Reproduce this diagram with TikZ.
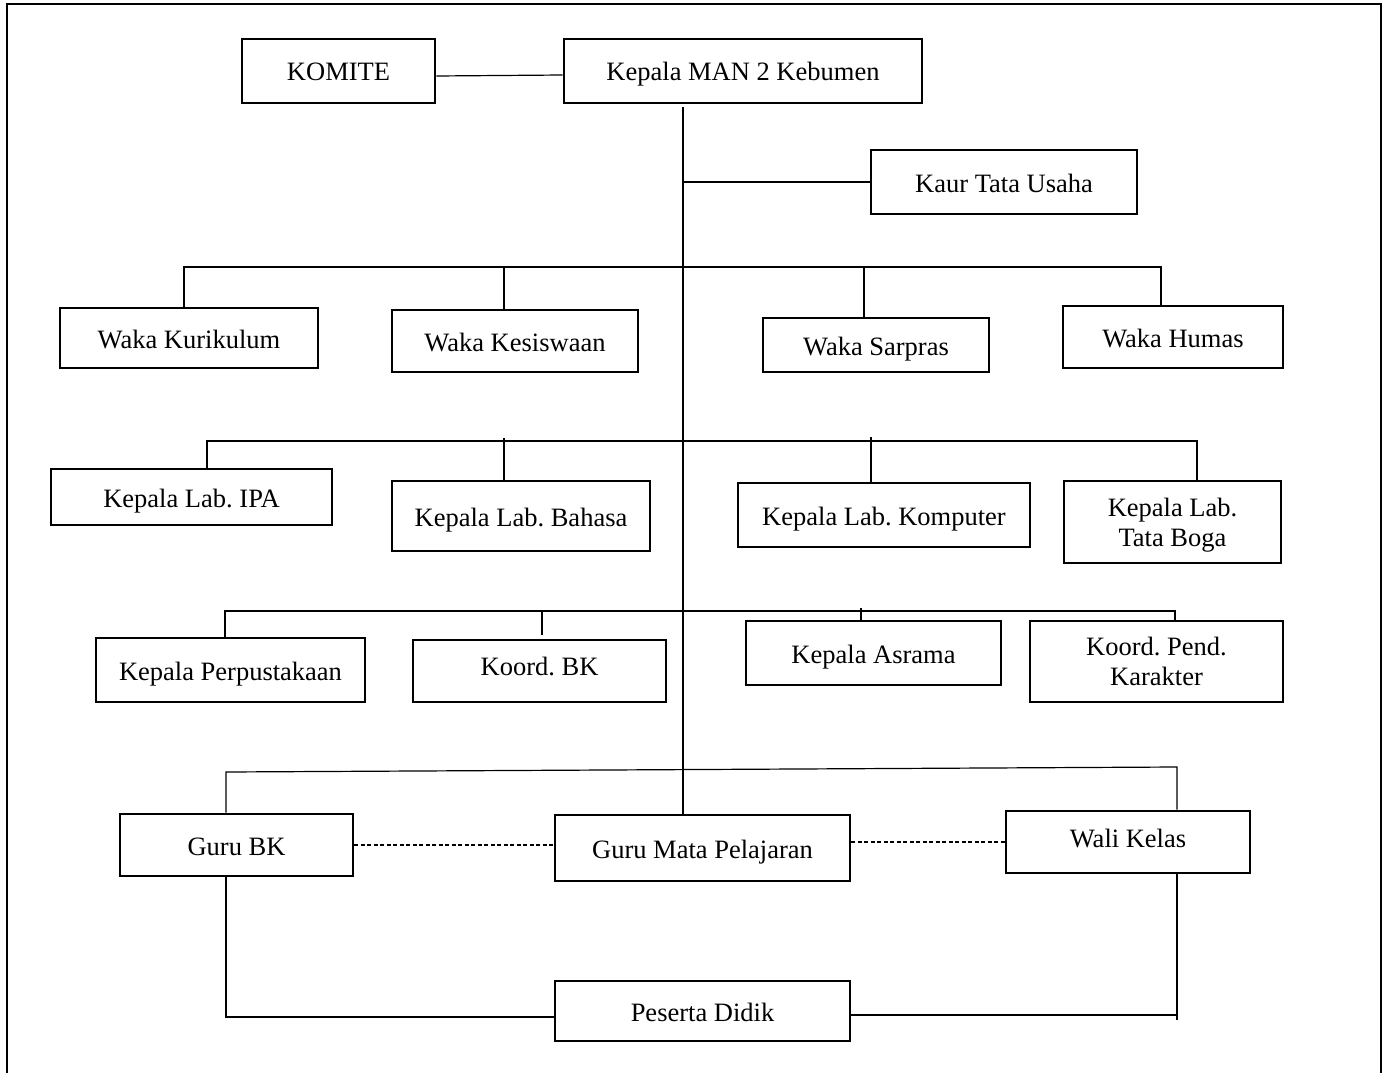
\documentclass[tikz,border=0pt]{standalone}
\usepackage{fontspec}
\setmainfont{Liberation Serif}
\begin{document}
\frenchspacing
\begin{tikzpicture}[x=1pt,y=-1pt,
  boxbase/.style={draw, line width=2.8pt, rectangle, inner sep=0pt, align=center,
              font=\fontsize{26.5}{30}\selectfont\frenchspacing},
  box/.style={boxbase, text height=20pt, text depth=0pt},
  twoline/.style={boxbase, text depth=0pt},
  conn/.style={line width=1.2pt},
  dashconn/.style={line width=1.2pt, dash pattern=on 4pt off 2.5pt},
  frame/.style={line width=2.8pt}]
\useasboundingbox (0,0) rectangle (1384,1073);
% outer frame (open at the bottom)
\draw[frame] (7,1073) -- (7,4) -- (1381,4) -- (1381,1073);

% nodes
\node[box, minimum width=193pt, minimum height=64pt] (komite) at (338.5,71) {KOMITE};
\node[box, minimum width=358pt, minimum height=64pt] (kepala) at (743,71) {Kepala MAN 2 Kebumen};
\node[box, minimum width=266pt, minimum height=64pt] (kaur) at (1004,182) {Kaur Tata Usaha};

\node[box, minimum width=258pt, minimum height=60pt] (kurikulum) at (189,338) {Waka Kurikulum};
\node[box, minimum width=246pt, minimum height=62pt] (kesiswaan) at (515,341) {Waka Kesiswaan};
\node[box, minimum width=226pt, minimum height=54pt] (sarpras) at (876,345) {Waka Sarpras};
\node[box, minimum width=220pt, minimum height=62pt] (humas) at (1173,337) {Waka Humas};

\node[box, minimum width=281pt, minimum height=56pt] (ipa) at (191.5,497) {Kepala Lab. IPA};
\node[box, minimum width=258pt, minimum height=70pt] (bahasa) at (521,516) {Kepala Lab. Bahasa};
\node[box, minimum width=292pt, minimum height=64pt] (komputer) at (884,515) {Kepala Lab. Komputer};
\node[twoline, minimum width=217pt, minimum height=82pt] (boga) at (1172.5,522) {Kepala Lab.\\Tata Boga};

\node[box, minimum width=269pt, minimum height=64pt] (perpus) at (230.5,670) {Kepala Perpustakaan};
\node[box, minimum width=253pt, minimum height=62pt, text depth=12pt] (koordbk) at (539.5,671) {Koord. BK};
\node[box, minimum width=255pt, minimum height=64pt] (asrama) at (873.5,653) {Kepala Asrama};
\node[twoline, minimum width=253pt, minimum height=81pt] (karakter) at (1156.5,661.5) {Koord. Pend.\\Karakter};

\node[box, minimum width=233pt, minimum height=62pt] (gurubk) at (236.5,845) {Guru BK};
\node[box, minimum width=295pt, minimum height=66pt] (gmp) at (702.5,848) {Guru Mata Pelajaran};
\node[box, minimum width=244pt, minimum height=62pt, text depth=10pt] (wali) at (1128,842) {Wali Kelas};
\node[box, minimum width=295pt, minimum height=60pt] (peserta) at (702.5,1011) {Peserta Didik};

% helper coordinates
\coordinate (tx) at (683,0);
\coordinate (b1a) at (184,267);
\coordinate (b1b) at (504,267);
\coordinate (b1c) at (864,267);
\coordinate (b1d) at (1161,267);
\coordinate (b2a) at (207,441);
\coordinate (b2b) at (504,441);
\coordinate (b2c) at (871,441);
\coordinate (b2d) at (1197,441);
\coordinate (b3a) at (225,611);
\coordinate (b3b) at (542,611);
\coordinate (b3c) at (861,611);
\coordinate (b3d) at (1175,611);
\coordinate (c1) at (226,772);
\coordinate (c2) at (1177,767);
\coordinate (d1) at (226,1017);
\coordinate (d2) at (1177,1015);

% connectors
\draw[conn] ([yshift=-5pt]komite.east) -- ([yshift=-4pt]kepala.west);
\draw[conn] ([yshift=-3pt]kepala.south -| tx) -- (gmp.north -| tx);
\draw[conn] (kaur.west) -- (kaur.west -| tx);

\draw[conn] (kurikulum.north -| b1a) -- (b1a) -- (b1d) -- (humas.north -| b1d);
\draw[conn] (b1b) -- (kesiswaan.north -| b1b);
\draw[conn] (b1c) -- (sarpras.north -| b1c);

\draw[conn] (ipa.north -| b2a) -- (b2a) -- (b2d) -- (boga.north -| b2d);
\draw[conn] ([yshift=3pt]b2b) -- (bahasa.north -| b2b);
\draw[conn] ([yshift=4pt]b2c) -- (komputer.north -| b2c);

\draw[conn] (perpus.north -| b3a) -- (b3a) -- (b3d) -- (karakter.north -| b3d);
\draw[conn] (b3b) -- ([yshift=4pt]koordbk.north -| b3b);
\draw[conn] ([yshift=3pt]b3c) -- (asrama.north -| b3c);

\draw[conn] (gurubk.north -| c1) -- (c1) -- (c2) -- (wali.north -| c2);
\draw[dashconn] (gurubk.east) -- (gurubk.east -| gmp.west);
\draw[dashconn] (wali.west -| gmp.east) -- (wali.west);
\draw[conn] (gurubk.south -| d1) -- (d1) -- (d1 -| peserta.west);
\draw[conn] (wali.south -| d2) -- ([yshift=-5pt]d2);
\draw[conn] (d2) -- (d2 -| peserta.east);
\end{tikzpicture}
\end{document}
